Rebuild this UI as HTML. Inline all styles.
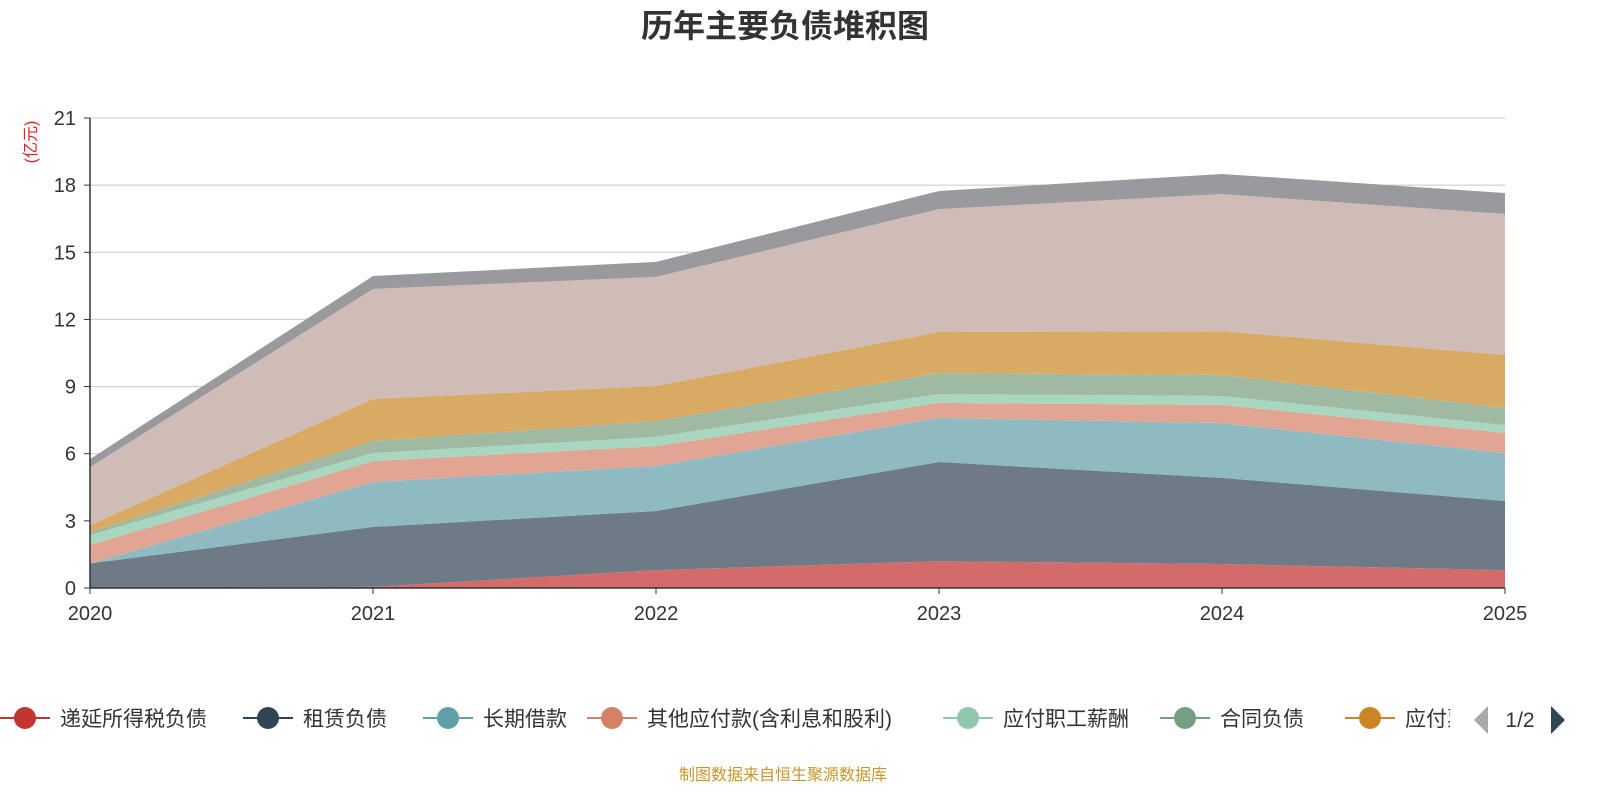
<!DOCTYPE html>
<html><head><meta charset="utf-8">
<style>
body{margin:0;background:#fff;width:1600px;height:800px;overflow:hidden;font-family:"Liberation Sans","Noto Sans CJK SC",sans-serif;}
svg text{font-family:"Liberation Sans","Noto Sans CJK SC",sans-serif;}
</style></head>
<body>
<svg id="chart" width="1600" height="800" viewBox="0 0 1600 800"></svg>
<script>
const categories=["2020","2021","2022","2023","2024","2025"];
const seriesNames=["递延所得税负债","租赁负债","长期借款","其他应付款(含利息和股利)","应付职工薪酬","合同负债","应付票据及应付账款","应付账款","其他"];
const sDeferredTax=[0,0.05,0.8,1.2,1.07,0.8];
const sLease=[1.1,2.68,2.64,4.43,3.85,3.09];
const sLongLoan=[0,2.01,2.01,1.97,2.45,2.14];
const sOtherPay=[0.82,0.93,0.89,0.67,0.81,0.9];
const sSalary=[0.45,0.36,0.41,0.4,0.4,0.35];
const sContract=[0.13,0.54,0.71,0.93,0.94,0.76];
const sNotes=[0.31,1.88,1.57,1.84,1.96,2.37];
const sPayable=[2.59,4.91,4.87,5.49,6.12,6.3];
const sOther=[0.36,0.58,0.67,0.81,0.9,0.94];
const yTicks=[0,3,6,9,12,15,18,21];
const series=[sDeferredTax,sLease,sLongLoan,sOtherPay,sSalary,sContract,sNotes,sPayable,sOther];
const fills=["#d46b6b","#6e7b86","#90bac1","#e1a693","#a9d6c0","#9fb9a2","#d9aa63","#d0bcb6","#9a9a9e"];
const NS="http://www.w3.org/2000/svg";
const svg=document.getElementById('chart');
function el(t,a,txt){const e=document.createElementNS(NS,t);for(const k in a)e.setAttribute(k,a[k]);if(txt!==undefined)e.textContent=txt;svg.appendChild(e);return e;}
const x0=90,x1=1505,y0=588,y1=118,yMax=21;
const xs=i=>x0+(x1-x0)*i/(categories.length-1);
const ys=v=>y0-(y0-y1)*v/yMax;
// title
let t=el('text',{x:785,y:37,'text-anchor':'middle','font-size':32,'font-weight':'bold',fill:'#333'},'历年主要负债堆积图');

// grid
yTicks.forEach(v=>{
 const g=el('line',{x1:x0,x2:x1,y1:ys(v),y2:ys(v),stroke:'#c8c8c8','stroke-width':1});
 
 const lb=el('text',{x:76,y:ys(v)+7,'text-anchor':'end','font-size':20,fill:'#333'},String(v));
 
 const tk=el('line',{x1:84,x2:90,y1:ys(v),y2:ys(v),stroke:'#333'});
 
});
// areas
let base=categories.map(()=>0);
series.forEach((s,k)=>{
 const top=base.map((b,i)=>b+s[i]);
 let d='M'+top.map((v,i)=>xs(i)+','+ys(v)).join(' L');
 for(let i=categories.length-1;i>=0;i--)d+=' L'+xs(i)+','+ys(base[i]);
 const p=el('path',{d:d+'Z',fill:fills[k]});
 
 
 base=top;
});
// axes
let ax=el('line',{x1:x0,x2:x0,y1:y1,y2:y0,stroke:'#333','stroke-width':1.5});

ax=el('line',{x1:x0,x2:x1,y1:y0,y2:y0,stroke:'#333','stroke-width':1.5});

categories.forEach((c,i)=>{
 const tk=el('line',{x1:xs(i),x2:xs(i),y1:y0,y2:y0+6,stroke:'#333'});
 
 const lb=el('text',{x:xs(i),y:620,'text-anchor':'middle','font-size':20,fill:'#333'},c);
 
});
let yl=el('text',{x:0,y:0,transform:'translate(36,142) rotate(-90)','text-anchor':'middle','font-size':16,fill:'#e02020'},'(亿元)');

// legend
const legCol=["#c23531","#2f4554","#61a0a8","#d48265","#91c7ae","#749f83","#ca8622"];
const legX=[25,268,448,612,968,1185,1370];
legCol.forEach((c,i)=>{
 const cx=legX[i];
 const ln=el('line',{x1:cx-25,x2:cx+25,y1:718,y2:718,stroke:c,'stroke-width':2});
 
 const ci=el('circle',{cx:cx,cy:718,r:11,fill:c});
 
 const tx=el('text',{x:cx+35,y:726,'font-size':21,fill:'#333'},seriesNames[i]);
 
});
const cover=el('rect',{x:1450,y:695,width:150,height:50,fill:'#fff'});

let ar=el('path',{d:'M1488,706 L1474,720 L1488,734Z',fill:'#aaa'});

let pg=el('text',{x:1520,y:727,'text-anchor':'middle','font-size':21,fill:'#333'},'1/2');

ar=el('path',{d:'M1551,706 L1565,720 L1551,734Z',fill:'#2f4554'});

let ft=el('text',{x:783,y:780,'text-anchor':'middle','font-size':16,fill:'#c8962a'},'制图数据来自恒生聚源数据库');

</script>
</body></html>
